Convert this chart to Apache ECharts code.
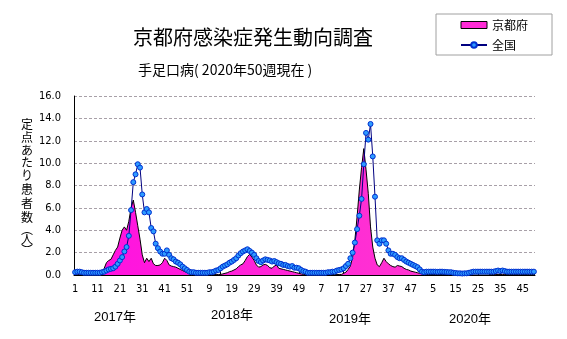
<!DOCTYPE html>
<html><head><meta charset="utf-8">
<script src="https://cdn.jsdelivr.net/npm/echarts@6/dist/echarts.min.js"></script>
<style>html,body{margin:0;padding:0;background:#fff}#c{width:567px;height:339px}</style>
</head><body><div id="c"></div>
<script>
// ---- data ----
const weeksPerYear = [52, 52, 52, 50];
const yearLabels = ['2017年', '2018年', '2019年', '2020年'];
const yTicks = [0, 2, 4, 6, 8, 10, 12, 14, 16];

const kyoto2017 = [0.05,0.05,0.05,0.05,0.05,0.05,0.05,0.05,0.05,0.05,0.05,0.1,
  0.2,0.6,1.1,1.3,1.4,1.8,2.2,2.5,3.3,4.0,4.3,4.0,4.8,6.0,6.7,5.6,4.4,3.2,1.8,1.1,1.5,1.2,1.5,1.0,
  0.85,0.85,0.9,1.1,1.5,1.3,0.9,0.8,0.75,0.7,0.6,0.5,0.4,0.3,0.2,0.1];
const kyoto2018 = [0.05,0.05,0.05,0.05,0.05,0.05,0.05,0.05,0.05,0.05,0.05,0.05,0.05,0.05,
  0.1,0.15,0.2,0.3,0.35,0.45,0.55,0.75,0.9,1.0,1.3,1.65,1.85,1.6,1.3,0.9,0.7,0.75,0.9,0.95,0.85,
  0.65,0.6,0.8,0.9,0.6,0.55,0.5,0.45,0.4,0.35,0.3,0.25,0.2,0.15,0.1,0.05,0.05];
const kyoto2019 = [0.05,0.05,0.05,0.05,0.05,0.05,0.05,0.05,0.05,0.05,0.05,0.05,0.05,0.05,0.05,0.05,
  0.15,0.25,0.5,0.8,1.6,3.1,5.2,7.6,9.6,11.3,9.4,7.3,4.3,2.5,1.5,0.9,0.75,1.1,1.5,1.2,1.0,0.85,
  0.75,0.7,0.85,0.8,0.75,0.6,0.5,0.45,0.35,0.3,0.25,0.2,0.15,0.1];
const kyoto2020 = [0.05,0.05,0.05,0.05,0.05,0.05,0.05,0.05,0.05,0.05,0.05,0.05,0.05,0.05,0.05,
  0.05,0.05,0.05,0.05,0.05,0.0,0.0,0.0,0.0,0.0,0.0,0.0,0.0,0.0,0.0,0.05,0.05,0.05,0.05,0.05,
  0.05,0.05,0.05,0.05,0.05,0.05,0.05,0.05,0.05,0.05,0.05,0.05,0.05,0.05,0.05];

const national2017 = [0.25,0.3,0.3,0.25,0.2,0.2,0.2,0.2,0.2,0.2,0.2,0.2,
  0.25,0.3,0.4,0.5,0.55,0.6,0.75,1.0,1.3,1.6,2.1,2.5,3.5,5.8,8.3,9.0,9.9,9.6,7.2,5.6,5.9,5.6,
  4.2,3.9,2.8,2.4,2.1,1.9,1.9,2.2,1.8,1.5,1.4,1.2,1.1,0.95,0.75,0.6,0.45,0.3];
const national2018 = [0.25,0.25,0.2,0.2,0.2,0.2,0.2,0.2,0.25,0.25,0.3,0.4,0.45,0.6,0.75,0.85,
  0.95,1.1,1.2,1.35,1.5,1.75,1.95,2.1,2.2,2.3,2.15,2.0,1.8,1.5,1.25,1.15,1.3,1.4,1.35,1.3,1.2,
  1.25,1.15,1.05,1.0,0.9,0.9,0.8,0.75,0.8,0.65,0.65,0.6,0.45,0.35,0.3];
const national2019 = [0.2,0.2,0.2,0.2,0.2,0.2,0.2,0.2,0.2,0.25,0.25,0.3,0.3,0.4,0.45,0.5,
  0.6,0.8,1.0,1.5,2.0,2.9,4.1,5.3,6.8,9.9,12.7,12.1,13.5,10.6,7.0,3.1,2.8,3.1,3.1,2.8,2.2,1.9,
  1.9,1.8,1.6,1.5,1.5,1.35,1.2,1.1,1.0,0.9,0.8,0.7,0.5,0.3];
const national2020 = [0.25,0.3,0.3,0.3,0.3,0.3,0.28,0.3,0.3,0.28,0.27,0.25,0.25,
  0.2,0.18,0.15,0.15,0.13,0.15,0.15,0.2,0.25,0.3,
  0.3,0.3,0.3,0.3,0.3,0.3,0.3,0.3,0.3,0.35,0.4,0.35,0.4,0.35,
  0.3,0.3,0.3,0.3,0.3,0.3,0.3,0.3,0.3,0.3,0.3,0.3,0.3];

// ---- build ----
const weeks = [];
weeksPerYear.forEach(n => { for (let w = 1; w <= n; w++) weeks.push(String(w)); });
const kyoto = [].concat(kyoto2017, kyoto2018, kyoto2019, kyoto2020);
const national = [].concat(national2017, national2018, national2019, national2020);

const numFont = "'Liberation Sans Narrow','DejaVu Sans Condensed','Liberation Sans',sans-serif";
const jpFont = "'Noto Sans CJK JP',sans-serif";

const chart = echarts.init(document.getElementById('c'), null, {renderer: 'canvas'});
const yAxisChars = ['定','点','あ','た','り','患','者','数','︵','人','︶'];
const yAxisCharY = [124, 137, 150, 162, 175, 189, 203, 217, 229, 239, 250];

const yearPos = [[94, 311], [211, 309], [329, 313], [449, 313]];

chart.setOption({
  animation: false,
  backgroundColor: '#fff',
  grid: {left: 74, right: 32, top: 96, bottom: 64},
  title: [
    {text: '京都府感染症発生動向調査', left: 128, top: 22,
     textStyle: {fontFamily: jpFont, fontSize: 20, fontWeight: 'normal', color: '#000'}},
    {text: '手足口病( 2020年50週現在 )', left: 133, top: 58,
     textStyle: {fontFamily: jpFont, fontSize: 14, fontWeight: 'normal', color: '#000'}}
  ],
  legend: {
    left: 436, top: 14, orient: 'vertical', itemWidth: 26, itemHeight: 7, itemGap: 8,
    padding: [5, 24, 4, 24], borderColor: '#A0A0A0', borderWidth: 1,
    textStyle: {fontFamily: jpFont, fontSize: 12, color: '#000'},
    data: [
      {name: '京都府', icon: 'rect', itemStyle: {color: '#FF2BD6', borderColor: '#000', borderWidth: 1}},
      {name: '全国'}
    ]
  },
  xAxis: {
    type: 'category', data: weeks, boundaryGap: true,
    axisLine: {lineStyle: {color: '#000', width: 1}},
    axisTick: {show: true, inside: true, length: 4, interval: 4, alignWithLabel: true, lineStyle: {color: '#000'}},
    axisLabel: {interval: 9, fontFamily: numFont, fontSize: 11, color: '#000', margin: 9}
  },
  yAxis: {
    type: 'value', min: yTicks[0], max: yTicks[yTicks.length - 1], interval: 2,
    axisLine: {show: true, lineStyle: {color: '#000', width: 1}},
    axisTick: {show: false},
    axisLabel: {fontFamily: numFont, fontSize: 11, color: '#000', margin: 13,
      formatter: v => v.toFixed(1)},
    splitLine: {lineStyle: {color: '#A8A0A8', type: [3, 2], width: 1}}
  },
  graphic: yAxisChars.map((ch, k) => ({type: 'text', x: 27, y: yAxisCharY[k],
     style: {text: ch, font: "12px 'Noto Sans CJK JP'", fill: '#000', align: 'center', verticalAlign: 'middle'}}))
  .concat(yearLabels.map((t, k) => ({type: 'text', x: yearPos[k][0], y: yearPos[k][1],
     style: {text: t, font: "13px 'Liberation Sans','Noto Sans CJK JP'", fill: '#000'}}))),
  series: [
    {name: '京都府', type: 'line', data: kyoto, symbol: 'none', z: 2,
     lineStyle: {color: '#000', width: 1},
     itemStyle: {color: '#FF2BD6'},
     areaStyle: {color: new echarts.graphic.LinearGradient(0, 0, 1, 0, [
        {offset: 0, color: '#FF10E0'}, {offset: 1, color: '#FF40CC'}]), opacity: 1}},
    {name: '全国', type: 'line', data: national, symbol: 'circle', symbolSize: 5, z: 3,
     showAllSymbol: true,
     lineStyle: {color: '#000080', width: 1},
     itemStyle: {color: '#2E9BFF', borderColor: '#0030D0', borderWidth: 1}}
  ]
});
</script></body></html>
